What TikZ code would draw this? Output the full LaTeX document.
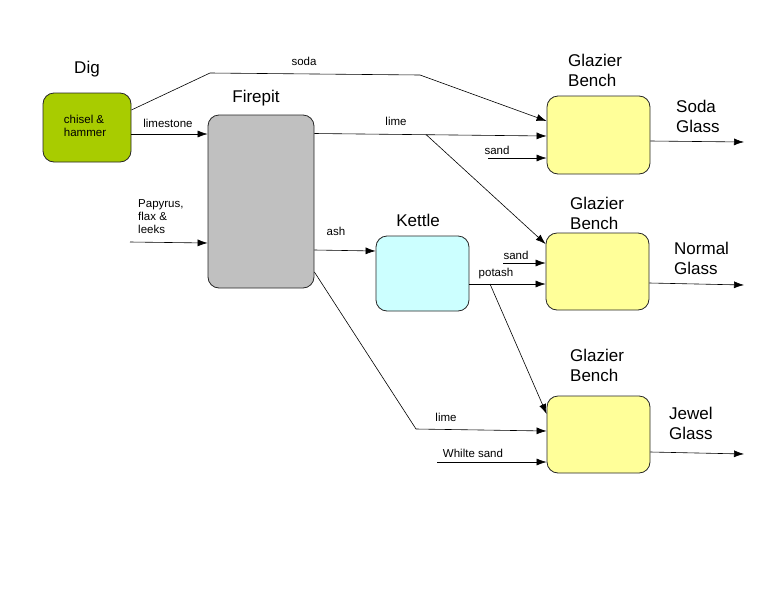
\documentclass[tikz,border=0pt]{standalone}
\usepackage{fontspec}
\setmainfont{Liberation Sans}
\usetikzlibrary{arrows.meta,positioning}
\definecolor{digGreen}{HTML}{A8CC00}
\definecolor{pitGray}{HTML}{C0C0C0}
\definecolor{kettleCyan}{HTML}{CCFFFF}
\definecolor{benchYellow}{HTML}{FFFF99}
\tikzset{
  box/.style={draw=black!85,rounded corners=11pt,line width=0.8pt,inner sep=0pt},
  bigtext/.style={font=\fontsize{17}{20}\selectfont,align=left,inner sep=0pt},
  smalltext/.style={font=\fontsize{11.5}{13}\selectfont,align=left,inner sep=0pt},
  flow/.style={line width=0.6pt,-{Latex[length=10pt,width=7pt]}},
  wire/.style={line width=0.6pt}
}
\begin{document}
\begin{tikzpicture}[x=1pt,y=-1pt]
\useasboundingbox[fill=white] (0,0) rectangle (776,600);
% boxes
\node[box,fill=digGreen,minimum width=88pt,minimum height=69pt] (dig) at (87,127.5) {};
\node[box,fill=pitGray,minimum width=106pt,minimum height=173pt] (firepit) at (261,201.5) {};
\node[box,fill=kettleCyan,minimum width=93pt,minimum height=75pt] (kettle) at (422.5,273.5) {};
\node[box,fill=benchYellow,minimum width=103pt,minimum height=78pt] (bench1) at (598.5,135) {};
\node[box,fill=benchYellow,minimum width=103pt,minimum height=77pt] (bench2) at (597.5,271.5) {};
\node[box,fill=benchYellow,minimum width=103pt,minimum height=77pt] (bench3) at (598.5,434.5) {};
% titles
\node[bigtext] (digT) at (87,69) {Dig};
\node[bigtext] (firepitT) at (256,98) {Firepit};
\node[bigtext] (kettleT) at (418,220) {Kettle};
\node[bigtext,anchor=west] (bench1T) at (568,70) {Glazier\\Bench};
\node[bigtext,anchor=west] (bench2T) at (570,213) {Glazier\\Bench};
\node[bigtext,anchor=west] (bench3T) at (570,365) {Glazier\\Bench};
\node[bigtext,anchor=west] (sodaT) at (676,116) {Soda\\Glass};
\node[bigtext,anchor=west] (normalT) at (674,258) {Normal\\Glass};
\node[bigtext,anchor=west] (jewelT) at (669,423) {Jewel\\Glass};
\node[smalltext] (digIn) at (85,126) {chisel \&\\hammer};
% small labels
\node[smalltext] (sodaL) at (304,61) {soda};
\node[smalltext] (limestoneL) at (168,123) {limestone};
\node[smalltext,anchor=west] (papyrusL) at (138,217) {Papyrus,\\flax \&\\leeks};
\node[smalltext] (limeL) at (396,121) {lime};
\node[smalltext] (sand1L) at (497,150) {sand};
\node[smalltext] (ashL) at (336,231) {ash};
\node[smalltext] (sand2L) at (516,255) {sand};
\node[smalltext] (potashL) at (496,274) {potash};
\node[smalltext] (lime2L) at (446,417) {lime};
\node[smalltext] (whiteL) at (473,453) {Whilte sand};
% bends and free ends
\coordinate (sodaA) at (210,73);
\coordinate (sodaB) at (420,75);
\coordinate (papyrusIn) at (130,242);
\coordinate (limeSplit) at (426,134.5);
\coordinate (sand1In) at (488,158);
\coordinate (sand2In) at (503,263);
\coordinate (potashSplit) at (490,284);
\coordinate (limeBend) at (416,429);
\coordinate (whiteIn) at (437,462);
\coordinate (sodaOut) at (744,142);
\coordinate (normalOut) at (744,285);
\coordinate (jewelOut) at (744,454);
% connectors
\draw[flow] (dig.east |- 0,110) -- (sodaA) -- (sodaB) -- (bench1.west |- 0,121);
\draw[flow] (dig.east |- 0,134) -- (firepit.west |- 0,134);
\draw[flow] (papyrusIn) -- (firepit.west |- 0,243);
\draw[flow] (firepit.east |- 0,133.5) -- (bench1.west |- 0,136);
\draw[flow] (limeSplit) -- (bench2.west |- 0,244);
\draw[flow] (sand1In) -- (bench1.west |- sand1In);
\draw[flow] (firepit.east |- 0,250) -- (kettle.west |- 0,251);
\draw[flow] (sand2In) -- (bench2.west |- sand2In);
\draw[flow] (kettle.east |- 0,284) -- (bench2.west |- 0,284);
\draw[flow] (potashSplit) -- (bench3.west |- 0,414);
\draw[flow] (firepit.east |- 0,272) -- (limeBend) -- (bench3.west |- 0,431);
\draw[flow] (whiteIn) -- (bench3.west |- whiteIn);
\draw[flow] (bench1.east |- 0,141) -- (sodaOut);
\draw[flow] (bench2.east |- 0,283) -- (normalOut);
\draw[flow] (bench3.east |- 0,452) -- (jewelOut);
\end{tikzpicture}
\end{document}
